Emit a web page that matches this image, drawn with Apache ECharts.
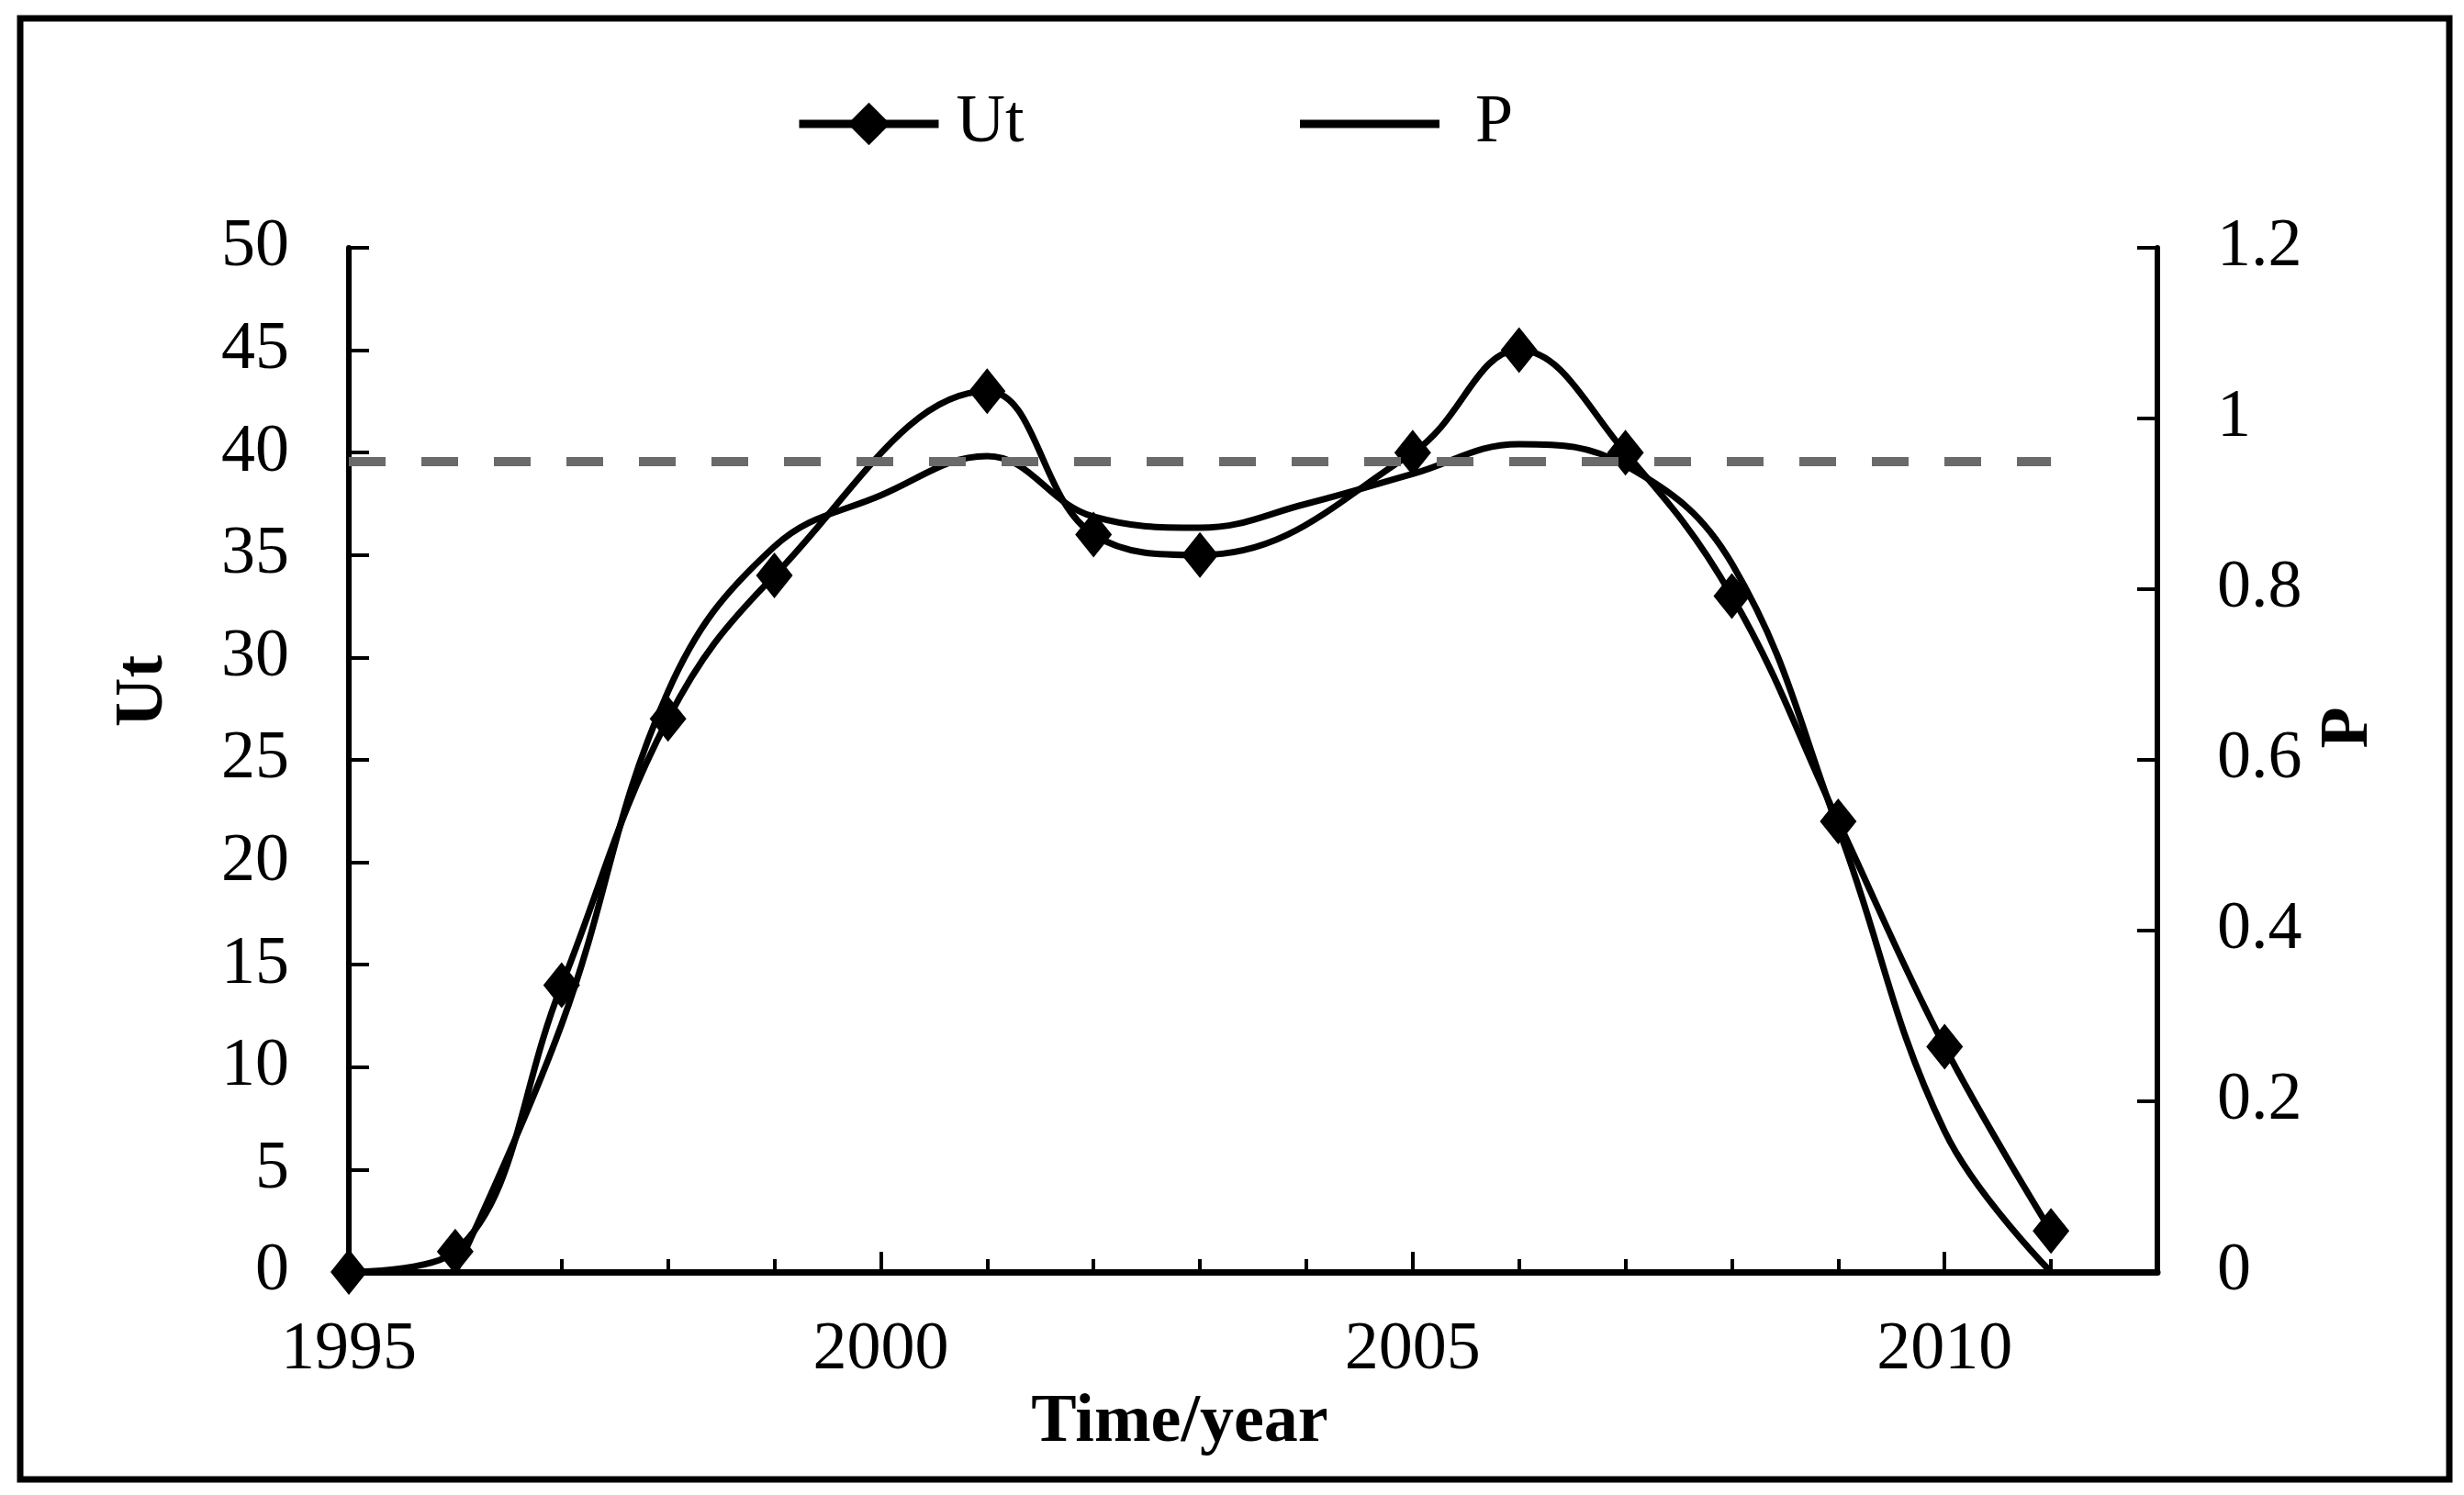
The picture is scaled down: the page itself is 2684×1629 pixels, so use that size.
<!DOCTYPE html>
<html>
<head>
<meta charset="utf-8">
<script src="https://cdn.jsdelivr.net/npm/echarts@6/dist/echarts.min.js"></script>
<style>
html,body{margin:0;padding:0;background:#fff;}
#c{width:2684px;height:1629px;}
</style>
</head>
<body>
<div id="c"></div>
<script>
// ---- data ----
const utYears  = [1995, 1996, 1997, 1998, 1999, 2001, 2002, 2003, 2005, 2006, 2007, 2008, 2009, 2010, 2011];
const utValues = [0, 1, 14, 27, 34, 43, 36, 35, 40, 45, 40, 33, 22, 11, 2];
const pYears   = [1996, 1997, 1998, 1999, 2000, 2001, 2002, 2003, 2004, 2005, 2006, 2007, 2008, 2009, 2010, 2011];
const pValues  = [0, 0.29, 0.68, 0.85, 0.91, 0.956, 0.885, 0.872, 0.9, 0.935, 0.97, 0.945, 0.83, 0.52, 0.165, 0];
const thresholdValue = 0.95;
const thresholdYears = [1995, 2011];
const xRange = [1995, 2012];
const utRange = [0, 50];
const pRange = [0, 1.2];
const legendNames = ['Ut', 'P'];
const axisNames = { x: 'Time/year', left: 'Ut', right: 'P' };

const FONT = "'Liberation Serif', 'Times New Roman', serif";
const FS = 74;

const chart = echarts.init(document.getElementById('c'), null, { width: 2684, height: 1629 });

const utData = utYears.map((y, i) => [y, utValues[i]]);
const pData = pYears.map((y, i) => [y, pValues[i]]);

const option = {
  backgroundColor: '#fff',
  animation: false,
  textStyle: { fontFamily: FONT, color: '#000' },
  graphic: [{
    type: 'rect', silent: true, z: 0,
    shape: { x: 22, y: 20, width: 2646, height: 1592 },
    style: { fill: 'none', stroke: '#000', lineWidth: 7 }
  }],
  legend: {
    left: 866, top: 98, padding: 0,
    itemWidth: 152, itemHeight: 58, itemGap: 296,
    textStyle: { fontFamily: FONT, fontSize: FS, color: '#000', padding: [0, 0, 0, 14] },
    lineStyle: { width: 9 },
    data: [
      { name: legendNames[0] },
      { name: legendNames[1], itemStyle: { opacity: 0 }, textStyle: { padding: [0, 0, 0, 34] } }
    ]
  },
  grid: { left: 380, right: 334, top: 270, bottom: 243, containLabel: false },
  xAxis: [
    {
      type: 'value', min: xRange[0], max: xRange[1], interval: 5, position: 'bottom',
      axisLine: { show: true, lineStyle: { color: '#000', width: 7 } },
      axisTick: { show: true, inside: true, length: 22, lineStyle: { color: '#000', width: 4 } },
      axisLabel: {
        margin: 49, fontSize: FS, fontFamily: FONT, color: '#000',
        formatter: v => ((v - xRange[0]) % 5 === 0 && v < xRange[1]) ? String(v) : ''
      },
      splitLine: { show: false },
      name: axisNames.x, nameLocation: 'middle', nameGap: 114,
      nameTextStyle: { fontSize: FS, fontWeight: 'bold', fontFamily: FONT, color: '#000', padding: [0, 160, 0, 0] }
    },
    {
      type: 'value', min: xRange[0], max: xRange[1], interval: 1, position: 'bottom',
      axisLine: { show: false },
      axisTick: { show: true, inside: true, length: 14, lineStyle: { color: '#000', width: 4 } },
      axisLabel: { show: false },
      splitLine: { show: false }
    }
  ],
  yAxis: [
    {
      type: 'value', min: utRange[0], max: utRange[1], interval: 5, position: 'left',
      axisLine: { show: true, lineStyle: { color: '#000', width: 6 } },
      axisTick: { show: true, inside: true, length: 22, lineStyle: { color: '#000', width: 4 } },
      axisLabel: { margin: 65, fontSize: FS, fontFamily: FONT, color: '#000' },
      splitLine: { show: false },
      name: axisNames.left, nameLocation: 'middle', nameRotate: 90, nameGap: 186,
      nameTextStyle: { fontSize: FS, fontWeight: 'bold', fontFamily: FONT, color: '#000', padding: [0, 0, 0, 150] }
    },
    {
      type: 'value', min: pRange[0], max: pRange[1], interval: 0.2, position: 'right',
      axisLine: { show: true, lineStyle: { color: '#000', width: 6 } },
      axisTick: { show: true, inside: true, length: 22, lineStyle: { color: '#000', width: 4 } },
      axisLabel: { margin: 65, fontSize: FS, fontFamily: FONT, color: '#000' },
      splitLine: { show: false },
      name: axisNames.right, nameLocation: 'middle', nameRotate: 90, nameGap: 172,
      nameTextStyle: { fontSize: FS, fontWeight: 'bold', fontFamily: FONT, color: '#000', padding: [0, 0, 0, 70] }
    }
  ],
  series: [
    {
      name: legendNames[1], type: 'line', xAxisIndex: 0, yAxisIndex: 1,
      data: pData, smooth: 0.4, symbol: 'none', showSymbol: false,
      lineStyle: { color: '#000', width: 7 }, itemStyle: { color: '#000' },
      z: 3,
      markLine: {
        silent: true, symbol: 'none', animation: false,
        label: { show: false },
        lineStyle: { color: '#6a6a6a', width: 10, type: [40, 39] },
        data: [[{ coord: [thresholdYears[0], thresholdValue] }, { coord: [thresholdYears[1], thresholdValue] }]]
      }
    },
    {
      name: legendNames[0], type: 'line', xAxisIndex: 0, yAxisIndex: 0,
      data: utData, smooth: 0.4, symbol: 'diamond', symbolSize: [40, 50], showSymbol: true,
      lineStyle: { color: '#000', width: 7 }, itemStyle: { color: '#000' },
      z: 4
    }
  ]
};
chart.setOption(option);
</script>
</body>
</html>
